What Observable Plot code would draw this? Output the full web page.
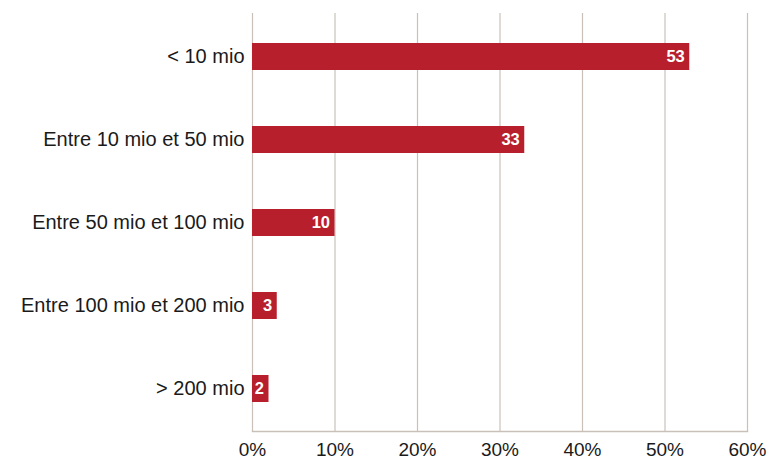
<!DOCTYPE html>
<html>
<head>
<meta charset="utf-8">
<script src="https://cdn.jsdelivr.net/npm/d3@7"></script>
<script src="https://cdn.jsdelivr.net/npm/@observablehq/plot@0.6"></script>
<style>
  html, body { margin: 0; padding: 0; background: #fff; }
  #chart svg { display: block; }
</style>
</head>
<body>
<div id="chart"></div>
<script>
const categories = ["< 10 mio", "Entre 10 mio et 50 mio", "Entre 50 mio et 100 mio", "Entre 100 mio et 200 mio", "> 200 mio"];
const values = [53, 33, 10, 3, 2];
const xTicks = [0, 10, 20, 30, 40, 50, 60];

const data = categories.map((c, i) => ({category: c, value: values[i]}));
const gridColor = "#c9c1b9";
const barColor = "#b81f2d";

const chart = Plot.plot({
  width: 769,
  height: 462,
  marginLeft: 252,
  marginRight: 22,
  marginTop: 13,
  marginBottom: 31,
  style: {fontFamily: "'Liberation Sans', Arial, sans-serif", fontSize: "17px", color: "#1a1a1a", background: "#fff"},
  x: {domain: [0, 60], ticks: xTicks, tickFormat: d => d + "%", label: null, tickSize: 0, tickPadding: 11},
  y: {domain: categories, label: null, tickSize: 0, tickPadding: 8, paddingInner: 0.68, paddingOuter: 0.34},
  marks: [
    Plot.ruleX(xTicks, {x: d => d, stroke: gridColor, strokeWidth: 1.2}),
    Plot.frame({anchor: "bottom", stroke: gridColor, strokeWidth: 1.5}),
    Plot.barX(data, {x: "value", y: "category", fill: barColor}),
    Plot.text(data, {x: "value", y: "category", text: d => String(d.value), textAnchor: "end", dx: -5, fill: "#fff", fontWeight: "bold", fontSize: 16.5}),
    Plot.axisX({ticks: xTicks, tickFormat: d => d + "%", tickSize: 0, tickPadding: 11, label: null, fontSize: 19}),
    Plot.axisY({tickSize: 0, tickPadding: 8, label: null, fontSize: 20})
  ]
});
document.getElementById("chart").appendChild(chart);
</script>
</body>
</html>
